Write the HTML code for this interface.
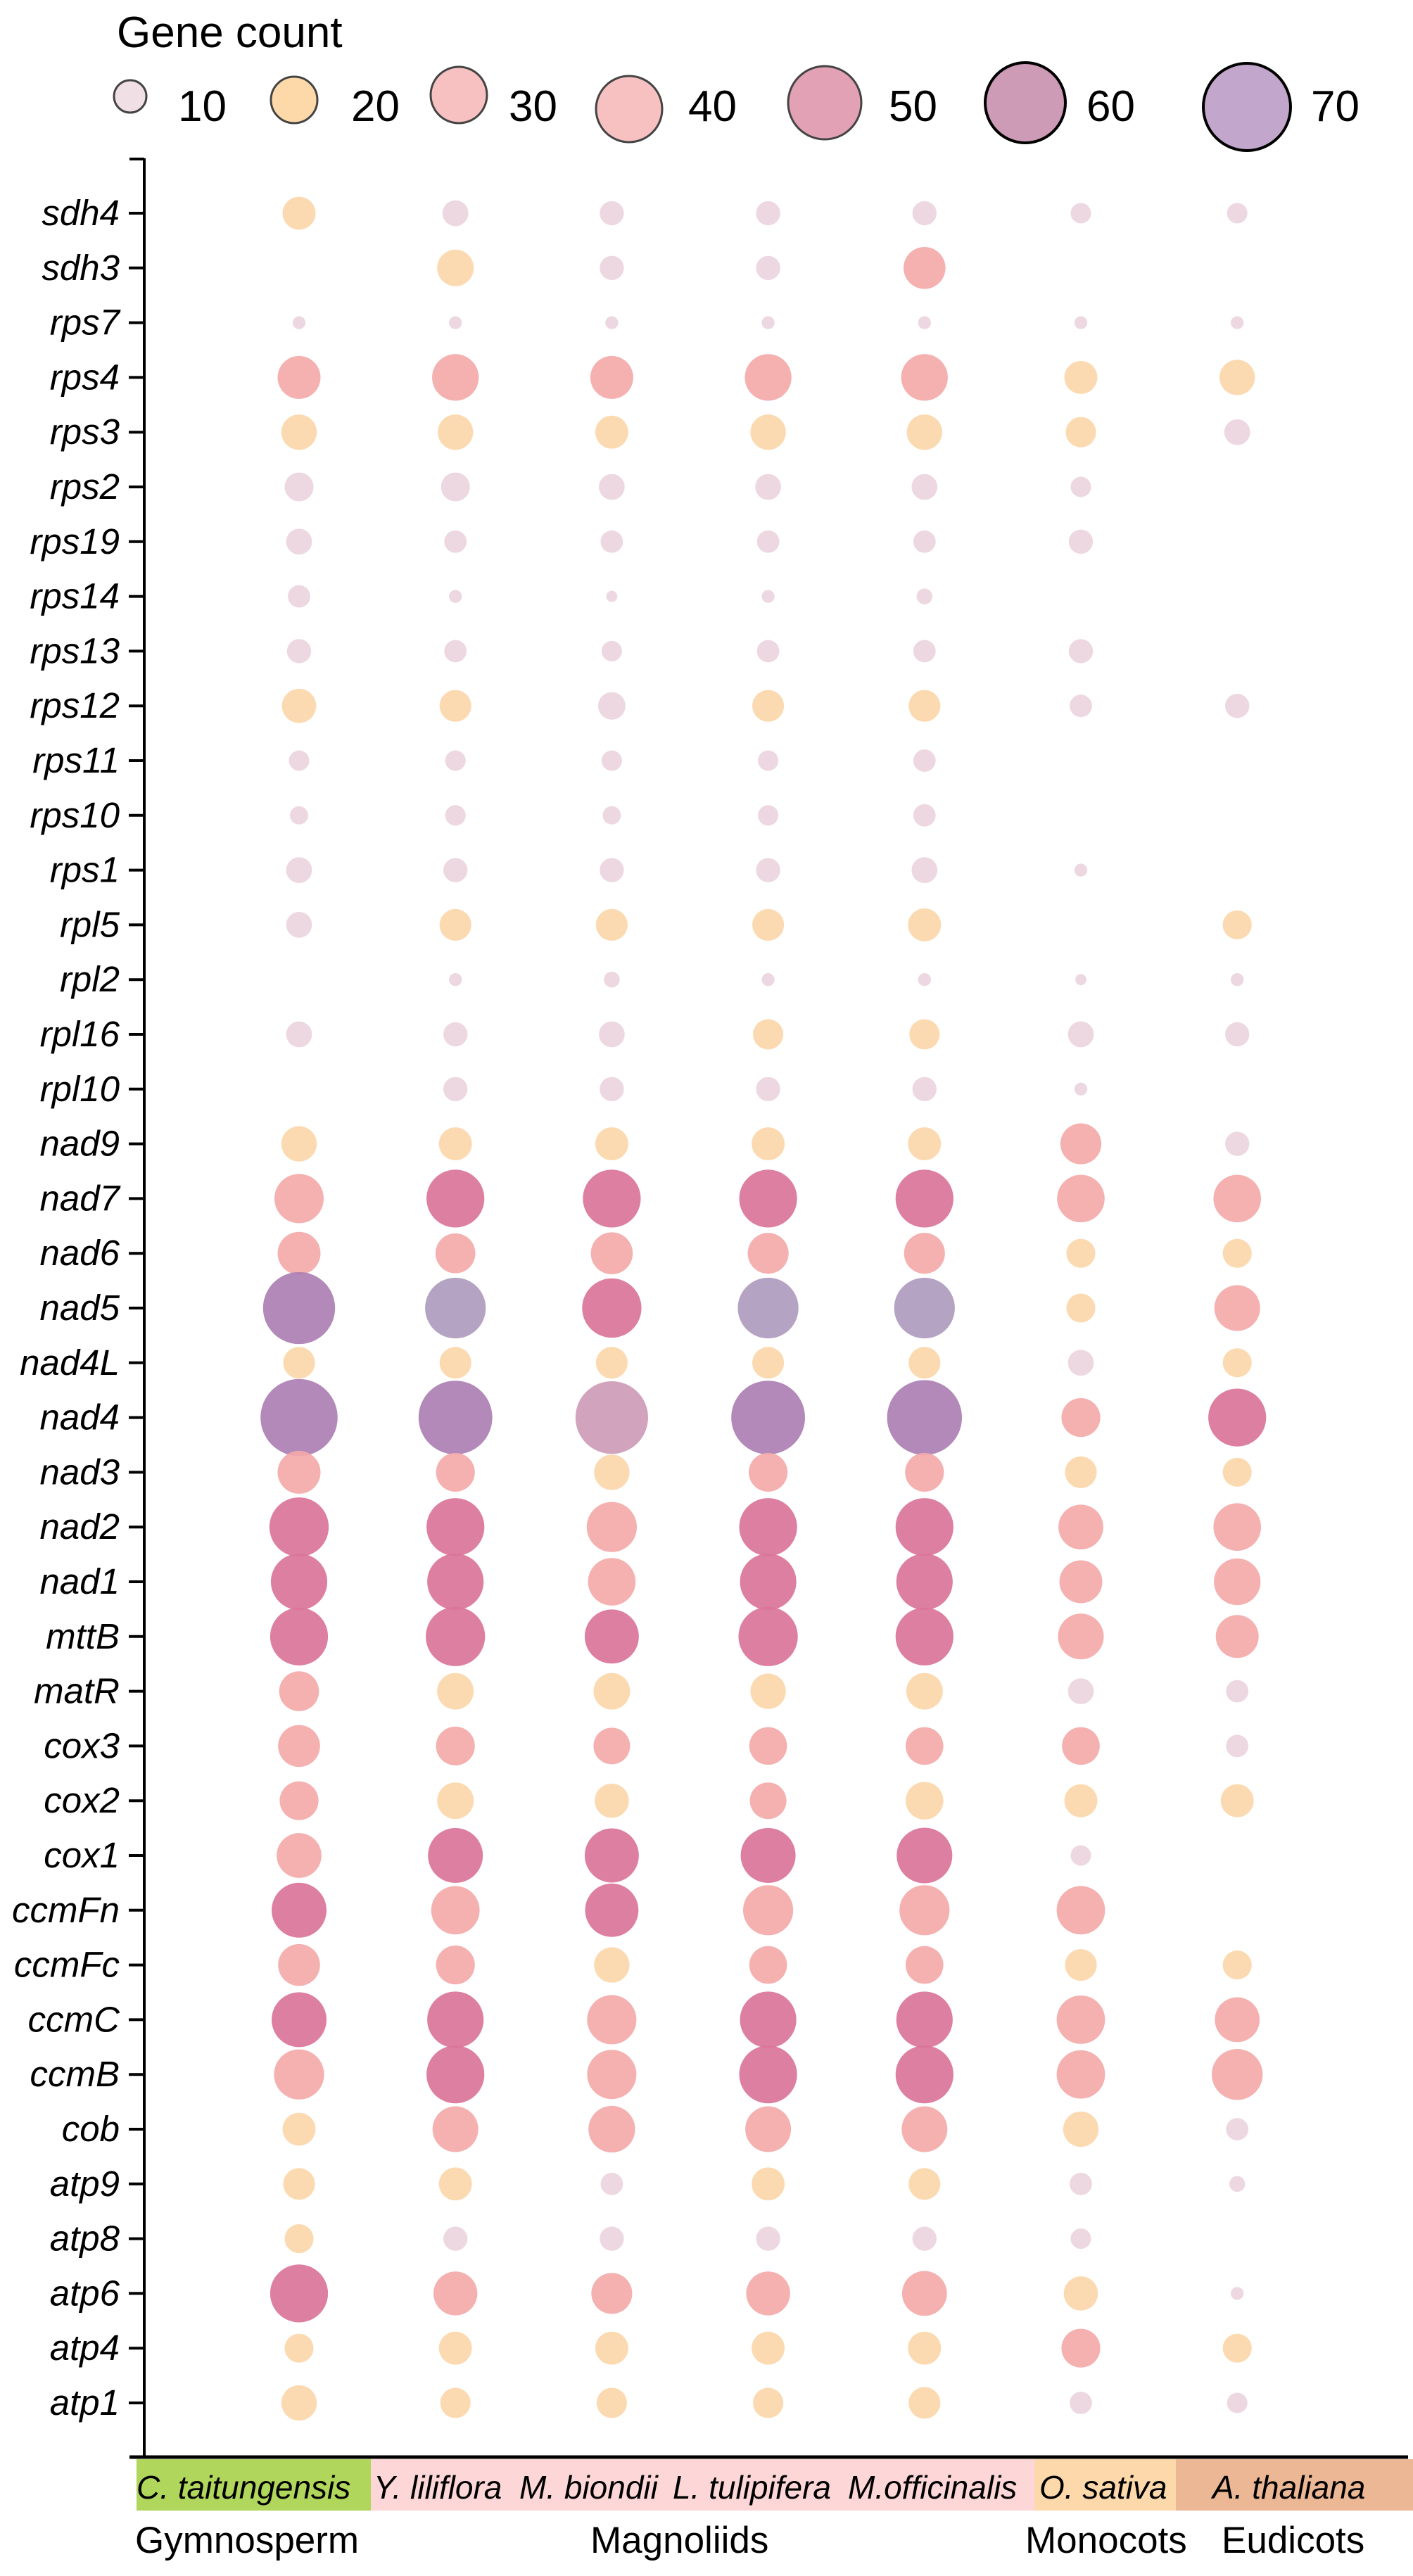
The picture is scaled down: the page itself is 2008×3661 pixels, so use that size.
<!DOCTYPE html>
<html><head><meta charset="utf-8"><style>
html,body{margin:0;padding:0;background:#fff}
svg{display:block}
text{font-family:"Liberation Sans",Arial,sans-serif;fill:#000}
</style></head><body>
<svg id="chart" width="2008" height="3661" viewBox="0 0 2008 3661" xmlns="http://www.w3.org/2000/svg">
<g id="legend">
<text x="166" y="67" font-size="62">Gene count</text>
</g>
<g id="axes"></g>
<g id="dots"></g>
<g id="bottom"></g>
</svg>
<script>
const genes = ["sdh4","sdh3","rps7","rps4","rps3","rps2","rps19","rps14","rps13","rps12","rps11","rps10","rps1","rpl5","rpl2","rpl16","rpl10","nad9","nad7","nad6","nad5","nad4L","nad4","nad3","nad2","nad1","mttB","matR","cox3","cox2","cox1","ccmFn","ccmFc","ccmC","ccmB","cob","atp9","atp8","atp6","atp4","atp1"];
const species = ["C. taitungensis","Y. liliflora","M. biondii","L. tulipifera","M.officinalis","O. sativa","A. thaliana"];
const counts = [
[13,8,7,7,7,5,5],[0,16,7,7,21,0,0],[2,2,2,2,2,2,2],[22,26,22,26,26,13,15],[15,15,13,15,15,11,8],
[10,10,8,8,8,5,0],[8,6,6,6,6,7,0],[6,2,1.5,2,3,0,0],[7,6,5,6,6,7,0],[14,12,9,12,12,6,7],
[5,5,5,5,6,0,0],[4,5,4,5,6,0,0],[8,7,7,7,8,2,0],[8,12,12,12,13,0,10],[0,2,3,2,2,1.5,2],
[8,7,8,11,11,8,7],[0,7,7,7,7,2,0],[15,13,13,13,13,20,7],[29,40,40,40,40,27,27],[22,19,21,20,20,10,10],
[62,44,42,44,44,10,25],[12,12,12,12,12,8,10],[71,65,63,65,67,18,40],[22,18,15,18,18,12,10],[42,40,30,40,40,24,27],
[38,38,27,38,38,22,26],[40,42,35,42,40,25,22],[19,16,16,15,16,8,6],[21,18,16,17,17,17,6],[18,16,14,16,17,13,13],
[24,36,35,36,37,5,0],[36,28,34,30,30,28,0],[21,18,15,17,17,12,10],[36,38,29,38,38,28,24],[30,40,29,40,40,28,31],
[13,25,26,25,25,15,6],[12,13,6,13,12,6,3],[10,7,7,7,7,5,0],[40,23,20,23,24,14,2],[10,13,13,13,13,18,10],[15,11,11,11,12,6,5]
];
const colorLevels = ["2111111","0211300","1111111","3333322","2222221","1111110","1111110","1111100","1111110","2212211","1111100","1111100","1111110","1222202","0111111","1112211","0111110","2222231","3444433","3333322","7545523","2222212","7767734","3323322","4434433","4434433","4444433","3222211","3333331","3223222","3444410","4343330","3323322","4434433","3434433","2333321","2212211","2111110","4333321","2222232","2222211"];
const legendValues = [10,20,30,40,50,60,70];
const groups = ["Gymnosperm","Magnoliids","Monocots","Eudicots"];

const NS="http://www.w3.org/2000/svg";
const palette={1:"#ebd5de",2:"#fcd7aa",3:"#f4a9a9",4:"#da7498",5:"#af9bbe",6:"#cd9bb6",7:"#ac7fb3"};
function mk(tag,attrs,parent){const e=document.createElementNS(NS,tag);for(const k in attrs)e.setAttribute(k,attrs[k]);parent.appendChild(e);return e;}
const yScale=i=>303+i*77.8;
const xScale=j=>425+j*222.2;
const rScale=c=>6.5*Math.sqrt(c);

const axes=document.getElementById('axes');
let ax=mk('line',{x1:205,y1:225,x2:205,y2:3492,stroke:"#000","stroke-width":4},axes);


let tt=mk('line',{x1:184,y1:226,x2:205,y2:226,stroke:"#000","stroke-width":4},axes);


let bx=mk('line',{x1:184,y1:3492,x2:2001,y2:3492,stroke:"#000","stroke-width":5},axes);


genes.forEach((g,i)=>{
  const y=yScale(i);
  const t=mk('line',{x1:183,y1:y,x2:205,y2:y,stroke:"#000","stroke-width":4},axes);
  
  
  const l=mk('text',{x:170,y:y+17,"font-size":51,"font-style":"italic","text-anchor":"end"},axes);
  l.textContent=g;
  
  
});

const dots=document.getElementById('dots');
counts.forEach((row,i)=>{row.forEach((c,j)=>{
  if(!c)return;
  const lvl=colorLevels[i][j];
  const d=mk('circle',{cx:xScale(j),cy:yScale(i),r:rScale(c),fill:palette[lvl],"fill-opacity":0.92},dots);
  
  
});});

const legend=document.getElementById('legend');
const lx=[185,418,652,894,1172,1457,1772], ly=[137,142,135,155,146,146,152], lr=[23,33,40,47,52,57,62];
const lc=["#f0e0e6","#fdd9aa","#f7c1c1","#f7c1c1","#e3a1b5","#cd9bb6","#c3a6cc"];
const ltx=[253,499,723,978,1263,1544,1863];
legendValues.forEach((v,k)=>{
  const c=mk('circle',{cx:lx[k],cy:ly[k],r:lr[k],fill:lc[k],stroke:k>=5?"#000":"#444","stroke-width":k>=5?4:3},legend);
  
  
  const t=mk('text',{x:ltx[k],y:172,"font-size":62},legend);
  t.textContent=v;
  
  
});

const bottom=document.getElementById('bottom');
const boxes=[[194,527,"#b0d65c"],[527,1470,"#fdd7d7"],[1470,1671,"#fdd8ab"],[1671,2008,"#ecb795"]];
boxes.forEach(b=>{
  const r=mk('rect',{x:b[0],y:3495,width:b[1]-b[0],height:73,fill:b[2]},bottom);
  
  
});
const spx=[194,531,738,956,1205,1477,1723];
species.forEach((s,k)=>{
  const t=mk('text',{x:spx[k],y:3551,"font-size":46,"font-style":"italic"},bottom);
  t.textContent=s;
  
  
});
const gx=[192,839,1457,1736];
groups.forEach((g,k)=>{
  const t=mk('text',{x:gx[k],y:3628,"font-size":53},bottom);
  t.textContent=g;
  
  
});
</script>
</body></html>
